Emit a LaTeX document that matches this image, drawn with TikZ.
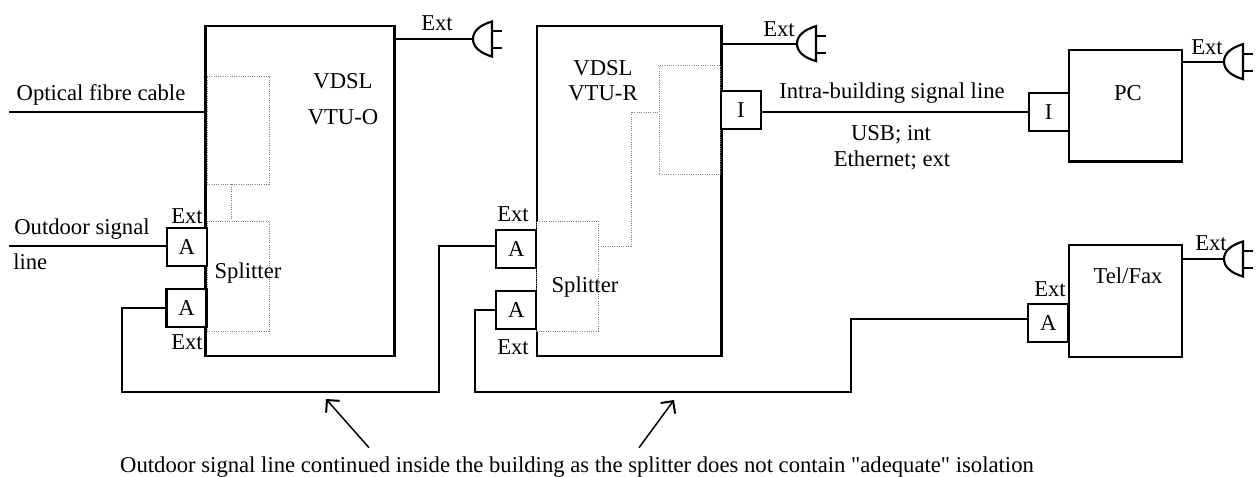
\documentclass[tikz,border=0pt]{standalone}
\usepackage{fontspec}
\setmainfont{Liberation Serif}[Ligatures=TeXOff]
\usetikzlibrary{arrows.meta, positioning}

\tikzset{
  unitbox/.style={draw, line width=1.9pt, inner sep=0pt},
  portbox/.style={draw, line width=1.6pt, fill=white, minimum width=30pt, minimum height=28.5pt, inner sep=0pt},
  dotbox/.style={draw=gray, densely dotted, line width=.7pt, inner sep=0pt},
  dotline/.style={draw=gray, densely dotted, line width=.7pt},
  wire/.style={line width=1.6pt},
  txt/.style={inner sep=0pt},
  pointer/.style={line width=1.1pt, -{Straight Barb[angle=90:9.5pt, line width=1.5pt]}},
  plug/.pic={
    \draw[line width=1.6pt] (19,-17.5) .. controls (7,-14) and (0,-8) .. (0,0)
      .. controls (0,8) and (7,14) .. (19,17.5) -- cycle;
    \draw[line width=1.6pt] (19,-8) -- (29,-8);
    \draw[line width=1.6pt] (19,9) -- (29,9);
  }
}

\begin{document}
\begin{tikzpicture}[x=0.75pt,y=-0.75pt,font=\fontsize{17}{19}\selectfont]
\useasboundingbox (0,0) rectangle (1258,477);

% central office side
\node (splitO) [dotbox, minimum width=46.5pt, minimum height=82.5pt] at (238,276) {};
\node (coreO) [dotbox, minimum width=46.5pt, minimum height=81pt] at (238,130) {};
\node (vtuO) [unitbox, minimum width=141.75pt, minimum height=247.5pt] at (300.25,191) {};
\node (aOneO) [portbox] at (186.7,247) {A};
\node (aTwoO) [portbox] at (186.5,308.3) {A};
\draw[dotline] ([xshift=-5.25pt]coreO.south) -- ([xshift=-5.25pt]splitO.north);

% remote side
\node (vtuR) [unitbox, minimum width=138.5pt, minimum height=247.5pt] at (629.3,191) {};
\node (splitR) [dotbox, fill=white, minimum width=46pt, minimum height=82.5pt] at (567.3,276) {};
\node (coreR) [dotbox, minimum width=45.5pt, minimum height=81.75pt] at (689.7,119.8) {};
\node (aOneR) [portbox] at (516.2,248.7) {A};
\node (aTwoR) [portbox] at (516.4,309.7) {A};
\node (iOne) [portbox] at (741,110.2) {I};
\coordinate (linkR) at (631,112);
\draw[dotline] ([yshift=22.5pt]splitR.east) -| (linkR) -- (linkR -| coreR.west);

% customer equipment
\node (pc) [unitbox, minimum width=84.75pt, minimum height=83.75pt] at (1125.5,105.8) {};
\node (tel) [unitbox, minimum width=84.75pt, minimum height=84pt] at (1125.5,301) {};
\node (iTwo) [portbox] at (1048.6,111.8) {I};
\node (aTel) [portbox] at (1048.3,322.8) {A};

% mains plugs
\coordinate (plugO) at (473,39);
\coordinate (plugR) at (797,43.7);
\coordinate (plugPc) at (1224,61.7);
\coordinate (plugTel) at (1224,259);
\pic at (plugO) {plug};
\pic at (plugR) {plug};
\pic at (plugPc) {plug};
\pic at (plugTel) {plug};
\draw[line width=2pt] (vtuO.east |- plugO) -- (plugO);
\draw[wire] (vtuR.east |- plugR) -- (plugR);
\draw[wire] (pc.east |- plugPc) -- (plugPc);
\draw[wire] (tel.east |- plugTel) -- (plugTel);

% signal lines
\coordinate (fibreEnd) at (9,112);
\coordinate (outdoorEnd) at (9,246);
\coordinate (loopOne) at (122.3,391.7);
\coordinate (loopTwo) at (475,391.7);
\coordinate (riseOne) at (439,391.7);
\coordinate (riseTwo) at (851,391.7);
\coordinate (telLevel) at (851,319);
\draw[wire] (fibreEnd) -- (fibreEnd -| vtuO.west);
\draw[wire] (outdoorEnd) -- (outdoorEnd -| aOneO.west);
\draw[wire] (iOne.east |- linkR) -- (iTwo.west |- linkR);
\draw[wire] (aTwoO.west) -- (loopOne |- aTwoO.west) -- (loopOne) -- (riseOne) -- (riseOne |- outdoorEnd) -- (aOneR.west |- outdoorEnd);
\draw[wire] (aTwoR.west) -- (loopTwo |- aTwoR.west) -- (loopTwo) -- (riseTwo) -- (telLevel) -- (telLevel -| aTel.west);

% labels
\node (extPlugO) [txt] at (437,23) {Ext};
\node (extOneO) [txt] at (187,216) {Ext};
\node (extTwoO) [txt] at (187,342) {Ext};
\node (extOneR) [txt] at (513,214) {Ext};
\node (extTwoR) [txt] at (513,347) {Ext};
\node (extPlugR) [txt] at (779,29) {Ext};
\node (extPc) [txt] at (1207,47) {Ext};
\node (extTel) [txt] at (1211,243) {Ext};
\node (extATel) [txt] at (1050,289) {Ext};
\node (vdslO) [txt] at (343,81) {VDSL};
\node (nameO) [txt] at (343,117) {VTU-O};
\node (vdslR) [txt] at (603,68) {VDSL};
\node (nameR) [txt] at (603,93) {VTU-R};
\node (txtSplitO) [txt] at (248,273) {Splitter};
\node (txtSplitR) [txt] at (585,287) {Splitter};
\node (txtPc) [txt] at (1128,93) {PC};
\node (txtTel) [txt] at (1128,276) {Tel/Fax};
\node (fibre) [txt] at (101,95) {Optical fibre cable};
\node (outdoor) [txt] at (82,229) {Outdoor signal};
\node (outdoorTwo) [txt, anchor=west] at (13,262) {line};
\node (intra) [txt] at (892,93) {Intra-building signal line};
\node (usb) [txt] at (891,135) {USB; int};
\node (ether) [txt] at (892,160) {Ethernet; ext};
\node (note) [txt] at (577,467) {Outdoor signal line continued inside the building as the splitter does not contain "adequate" isolation};

% pointers
\coordinate (tipOne) at (326,399);
\coordinate (tipTwo) at (674,400);
\draw[pointer] (369,447.7) -- (tipOne);
\draw[pointer] (639,447.7) -- (tipTwo);
\end{tikzpicture}
\end{document}
